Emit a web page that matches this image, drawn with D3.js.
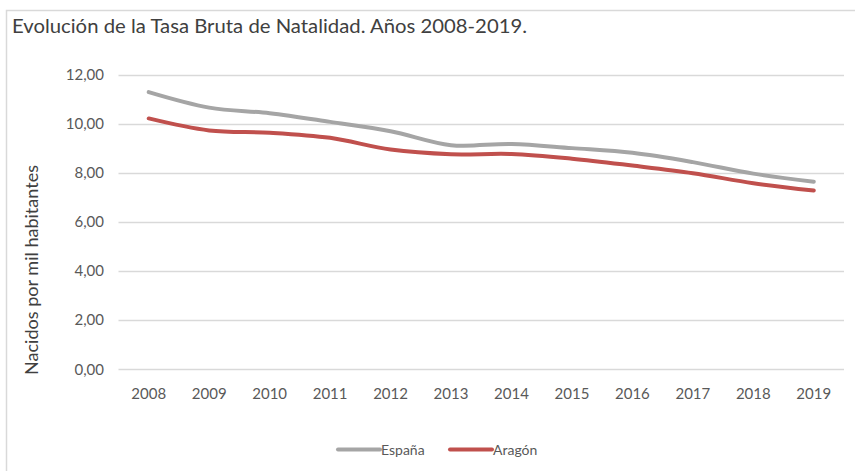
<!DOCTYPE html>
<html><head><meta charset="utf-8">
<script src="https://cdn.jsdelivr.net/npm/d3@7"></script>
<style>body{margin:0;background:#fff;} svg{display:block;}</style>
</head><body>
<svg id="c" width="855" height="471"></svg>
<script>
const years = ["2008","2009","2010","2011","2012","2013","2014","2015","2016","2017","2018","2019"];
const espana = [11.28,10.65,10.42,10.07,9.69,9.12,9.17,9.00,8.81,8.43,7.96,7.63];
const aragon = [10.21,9.72,9.63,9.42,8.94,8.75,8.76,8.57,8.29,7.98,7.57,7.27];
const yTicks = [0,2,4,6,8,10,12];
const seriesNames = ["España","Aragón"];
const colors = ["#A5A5A5","#C0504D"];

const font = "Lato, 'Open Sans', sans-serif";
const svg = d3.select("#c");
// chart border
svg.append("path").attr("d","M6.5,471 L6.5,10.5 L855,10.5").attr("fill","none").attr("stroke","#d9d9d9").attr("stroke-width",1.5);

svg.append("text").attr("x",12).attr("y",33).attr("font-family",font).attr("font-size",18.5).attr("fill","#404040")
  .attr("textLength",515).attr("lengthAdjust","spacingAndGlyphs")
  .text("Evolución de la Tasa Bruta de Natalidad. Años 2008-2019.");

const x = d3.scaleBand().domain(years).range([118.5,844]);
const y = d3.scaleLinear().domain([0,12]).range([369,74.5]);

const g = svg.append("g");
g.selectAll("line.grid").data(yTicks).join("line").attr("class","grid")
  .attr("x1",118.5).attr("x2",844).attr("y1",d=>Math.round(y(d))+0.5).attr("y2",d=>Math.round(y(d))+0.5)
  .attr("stroke","#d9d9d9").attr("stroke-width",1.3);

const fmt = d => d.toFixed(2).replace(".",",");
g.selectAll("text.yt").data(yTicks).join("text").attr("class","yt")
  .attr("x",104).attr("y",d=>y(d)+5.5).attr("text-anchor","end")
  .attr("font-family",font).attr("font-size",15).attr("fill","#595959").text(fmt);

g.selectAll("text.xt").data(years).join("text").attr("class","xt")
  .attr("x",d=>x(d)+x.bandwidth()/2).attr("y",398.5).attr("text-anchor","middle")
  .attr("font-family",font).attr("font-size",15).attr("fill","#595959").text(d=>d);

svg.append("text").attr("transform","translate(38,270) rotate(-90)").attr("text-anchor","middle")
  .attr("font-family",font).attr("font-size",18).attr("fill","#404040")
  .attr("textLength",210).attr("lengthAdjust","spacingAndGlyphs").text("Nacidos por mil habitantes");

const line = d3.line().x((d,i)=>x(years[i])+x.bandwidth()/2).y(d=>y(d)).curve(d3.curveCatmullRom.alpha(0.5));
[espana, aragon].forEach((s,k)=>{
  g.append("path").datum(s).attr("d",line).attr("fill","none").attr("stroke",colors[k])
    .attr("stroke-width",4).attr("stroke-linecap","round").attr("stroke-linejoin","round");
});

// legend
const leg = svg.append("g");
const legX = [338,450];
seriesNames.forEach((n,k)=>{
  leg.append("line").attr("x1",legX[k]).attr("x2",legX[k]+42).attr("y1",449.5).attr("y2",449.5)
    .attr("stroke",colors[k]).attr("stroke-width",4).attr("stroke-linecap","round");
  leg.append("text").attr("x",legX[k]+43).attr("y",454.5).attr("font-family",font).attr("font-size",14)
    .attr("fill","#595959").text(n);
});
</script>
</body></html>
